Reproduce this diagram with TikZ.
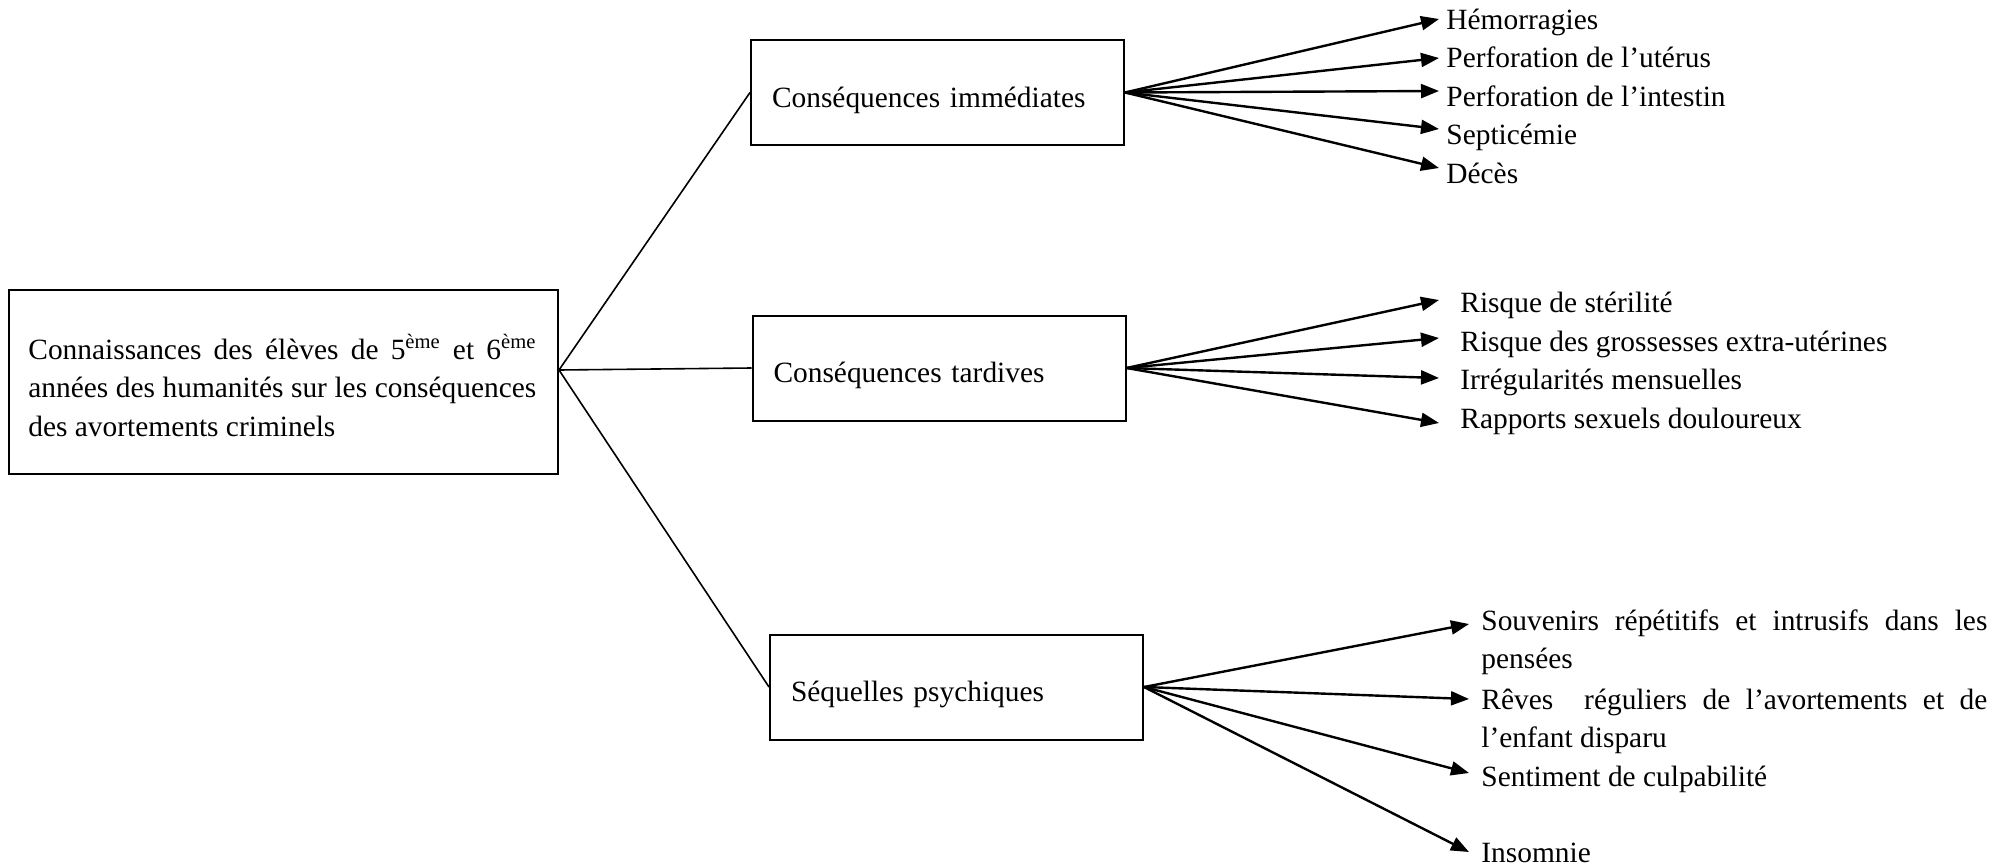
\documentclass[tikz,border=0pt]{standalone}
\usepackage{fontspec}
\setmainfont{Liberation Serif}
\usetikzlibrary{arrows.meta}
\begin{document}
\begin{tikzpicture}[x=0.5pt,y=-0.5pt,
  font=\fontsize{14.7pt}{19.25pt}\selectfont,
  box/.style={draw, line width=1pt, minimum height=52.5pt, inner xsep=10.5pt, inner ysep=0pt,
    text width=165.5pt, align=left, text height=1.54em, text depth=0.05em},
  conn/.style={line width=0.8pt},
  arr/.style={line width=1.2pt, -{Triangle[length=9pt,width=7pt]}},
  lbl/.style={anchor=base west, inner sep=0pt}]
\useasboundingbox (0,0) rectangle (2010,868);

% root
\node[draw, line width=1pt, minimum width=274.5pt, minimum height=92pt, inner sep=0pt] (root) at (283.5,382) {};
\node[lbl] (roottext) at (28,359) {\vtop{%
  \hbox{\makebox[254pt][s]{Connaissances des élèves de 5\textsuperscript{ème} et 6\textsuperscript{ème}}}%
  \hbox{\makebox[254pt][s]{années des humanités sur les conséquences}}%
  \hbox{des avortements criminels}}};

% boxes
\node[box] (imm) at (937.5,92.5) {Conséquences immédiates};
\node[box] (tard) at (939,368) {Conséquences tardives};
\node[box] (seq) at (956.5,687) {Séquelles psychiques};

\draw[conn] ([yshift=6pt]root.east) -- (imm.west);
\draw[conn] ([yshift=6pt]root.east) -- (tard.west);
\draw[conn] ([yshift=6pt]root.east) -- (seq.west);

% immediate consequences
\node[lbl] (i1) at (1446,29) {Hémorragies};
\node[lbl] (i2) at (1446,67.5) {Perforation de l’utérus};
\node[lbl] (i3) at (1446,106) {Perforation de l’intestin};
\node[lbl] (i4) at (1446,144.5) {Septicémie};
\node[lbl] (i5) at (1446,183) {Décès};
\coordinate (ti1) at (1439,19);
\coordinate (ti2) at (1439,58);
\coordinate (ti3) at (1439,91);
\coordinate (ti4) at (1439,129);
\coordinate (ti5) at (1439,168);
\foreach \k in {1,...,5} \draw[arr] (imm.east) -- (ti\k);

% late consequences
\node[lbl] (t1) at (1460,312.5) {Risque de stérilité};
\node[lbl] (t2) at (1460,351) {Risque des grossesses extra-utérines};
\node[lbl] (t3) at (1460,389.5) {Irrégularités mensuelles};
\node[lbl] (t4) at (1460,428) {Rapports sexuels douloureux};
\coordinate (tt1) at (1439,300);
\coordinate (tt2) at (1439,338);
\coordinate (tt3) at (1439,378);
\coordinate (tt4) at (1439,423);
\foreach \k in {1,...,4} \draw[arr] (tard.east) -- (tt\k);

% psychological sequelae
\node[lbl] (s1) at (1481,630) {\vtop{%
  \hbox{\makebox[253pt][s]{Souvenirs répétitifs et intrusifs dans les}}%
  \hbox{pensées}}};
\node[lbl] (s2) at (1481,709) {\vtop{%
  \hbox{\makebox[253pt][s]{Rêves\ \ réguliers de l’avortements et de}}%
  \hbox{l’enfant disparu}}};
\node[lbl] (s3) at (1481,786) {Sentiment de culpabilité};
\node[lbl] (s4) at (1481,862) {Insomnie};
\coordinate (ts1) at (1469,624);
\coordinate (ts2) at (1469,699);
\coordinate (ts3) at (1469,773);
\coordinate (ts4) at (1469,852);
\foreach \k in {1,...,4} \draw[arr] (seq.east) -- (ts\k);
\end{tikzpicture}
\end{document}
